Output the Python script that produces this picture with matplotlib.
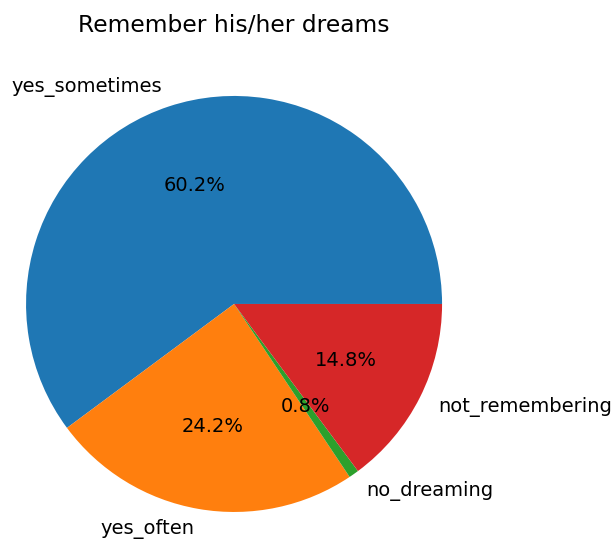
import matplotlib
matplotlib.use('Agg')
import matplotlib.pyplot as plt

# Pie data
labels = ['yes_sometimes', 'yes_often', 'no_dreaming', 'not_remembering']
counts = [77, 31, 1, 19]

fig = plt.figure(figsize=(6.14, 5.4), dpi=100)
ax = fig.add_axes([-0.0423, -0.0444, 0.847, 0.963])
ax.pie(counts, labels=labels, autopct='%1.1f%%', textprops={'fontsize': 14})
ax.set_title('Remember his/her dreams', fontsize=16.8, pad=8.4)
fig.savefig('out.png', dpi=100)
